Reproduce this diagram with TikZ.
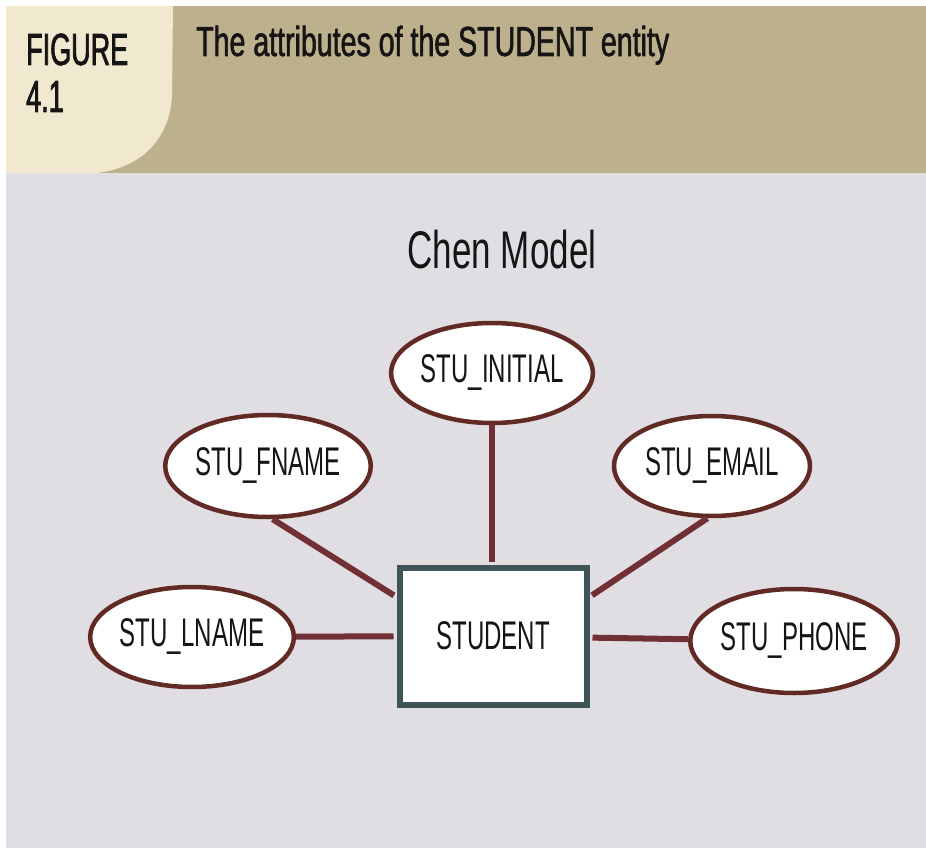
\documentclass[tikz,border=0pt]{standalone}
\usepackage{fontspec}
\setmainfont{Liberation Sans}[FakeStretch=0.6]
\newfontfamily\headfont{Liberation Sans}[FakeStretch=0.6,FakeBold=1.6]
\newfontfamily\titlefont{Liberation Sans}[FakeStretch=0.68,FakeBold=1.4]
\newfontfamily\chenfont{Liberation Sans}[FakeStretch=0.66]
\usetikzlibrary{shapes.geometric}
\definecolor{headtan}{RGB}{189,177,141}
\definecolor{headcream}{RGB}{240,233,207}
\definecolor{panelgray}{RGB}{224,222,226}
\definecolor{attrbrown}{RGB}{98,42,36}
\definecolor{linkred}{RGB}{112,48,54}
\definecolor{boxslate}{RGB}{62,84,86}
\definecolor{inkblack}{RGB}{22,20,20}
\begin{document}
\begin{tikzpicture}[x=1pt,y=-1pt,
  attr/.style={ellipse,draw=attrbrown,line width=4.5pt,fill=white,inner sep=0pt,
    minimum width=190pt,minimum height=100pt,text=inkblack,
    font=\fontsize{40}{44}\selectfont},
  entity/.style={rectangle,draw=boxslate,line width=6pt,fill=white,inner sep=0pt,
    minimum width=187pt,minimum height=137pt,text=inkblack,
    font=\fontsize{40}{44}\selectfont},
  link/.style={draw=linkred,line width=6pt},
  headtext/.style={anchor=base west,inner sep=0pt,text=inkblack}]
  \useasboundingbox (0,0) rectangle (926,848);
  % 背景
  \fill[white] (0,0) rectangle (926,848);
  \fill[panelgray] (6,173) rectangle (926,848);
  \fill[headtan] (6,6) rectangle (926,173);
  \fill[headcream] (6,6) -- (173,6) -- (172,95)
    .. controls (170,140) and (140,168) .. (97,173) -- (6,173) -- cycle;
  % 标题
  \node[headtext,font=\headfont\fontsize{45}{50}\selectfont] (figlabel) at (26,65) {FIGURE};
  \node[headtext,font=\headfont\fontsize{45}{50}\selectfont] (fignum) at (26,112) {4.1};
  \node[headtext,font=\titlefont\fontsize{42}{48}\selectfont] (title) at (196,56)
    {The attributes of the STUDENT entity};
  \node[anchor=base,inner sep=0pt,text=inkblack,font=\chenfont\fontsize{53}{58}\selectfont]
    (chen) at (502,268) {Chen Model};
  % 实体与属性
  \node[entity] (student) at (493,636) {STUDENT};
  \node[attr] (initial) at (492,373) {STU\_INITIAL};
  \node[attr,minimum height=102pt] (fname) at (268,466) {STU\_FNAME};
  \node[attr,minimum width=196pt] (email) at (712,466) {STU\_EMAIL};
  \node[attr,minimum width=186pt] (lname) at (192,637) {STU\_LNAME};
  \node[attr,minimum width=196pt,minimum height=104pt] (phone) at (794,641) {STU\_PHONE};
  % 连线
  \draw[link,shorten >=3pt] (fname.-85) -- (student.158);
  \draw[link,shorten >=3pt] (initial) -- (initial |- student.north);
  \draw[link,shorten >=3pt] (email.-95) -- (student.22);
  \draw[link,shorten >=3pt] (lname) -- (student);
  \draw[link,shorten <=3pt] (student) -- (phone);
\end{tikzpicture}
\end{document}
